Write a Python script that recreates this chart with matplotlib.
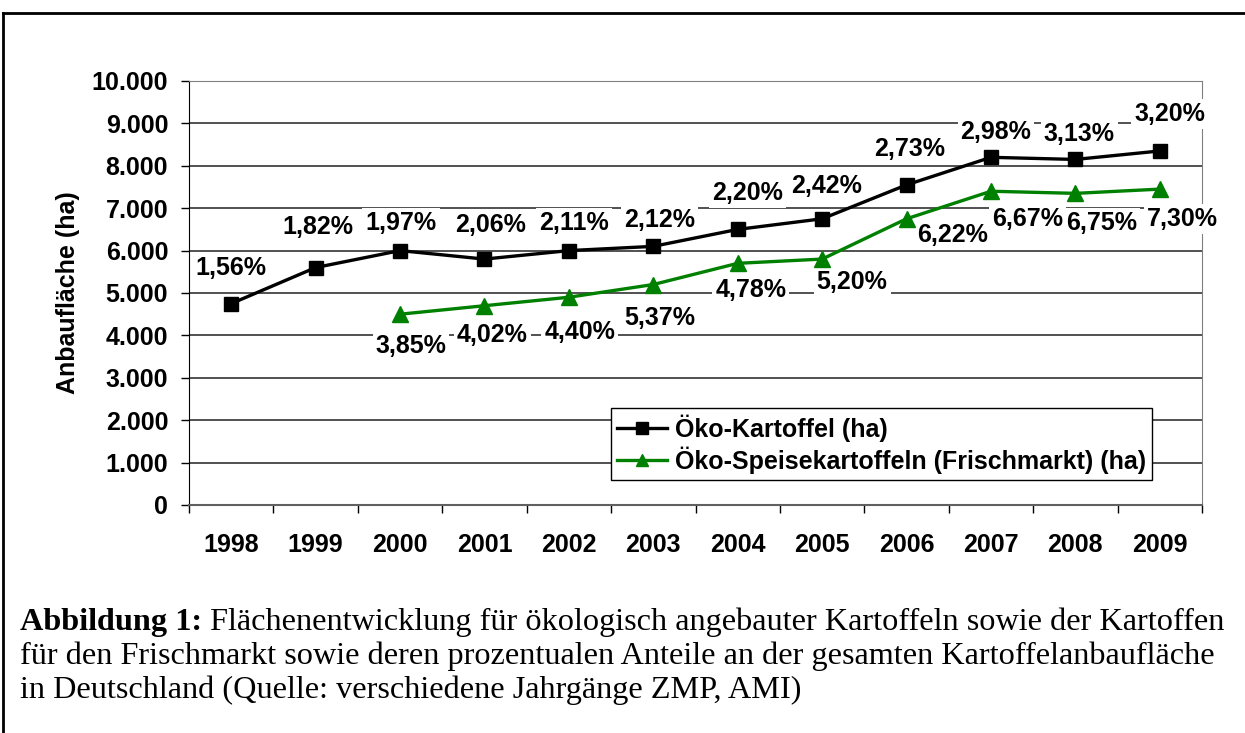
import matplotlib
matplotlib.use('Agg')
import matplotlib.pyplot as plt
from matplotlib.lines import Line2D
import numpy as np

plt.rcParams['font.family'] = ['Liberation Sans', 'DejaVu Sans']

# data
years = ['1998', '1999', '2000', '2001', '2002', '2003',
         '2004', '2005', '2006', '2007', '2008', '2009']
oeko_kartoffel = [4750, 5600, 6000, 5800, 6000, 6100, 6500, 6750, 7550, 8200, 8150, 8350]
oeko_kartoffel_pct = ['1,56%', '1,82%', '1,97%', '2,06%', '2,11%', '2,12%',
                      '2,20%', '2,42%', '2,73%', '2,98%', '3,13%', '3,20%']
speise_years = ['2000', '2001', '2002', '2003', '2004', '2005', '2006', '2007', '2008', '2009']
speise_kartoffel = [4500, 4700, 4900, 5200, 5700, 5800, 6750, 7400, 7350, 7450]
speise_pct = ['3,85%', '4,02%', '4,40%', '5,37%', '4,78%', '5,20%',
              '6,22%', '6,67%', '6,75%', '7,30%']
yticks = [0, 1000, 2000, 3000, 4000, 5000, 6000, 7000, 8000, 9000, 10000]

# label offsets in pixels (dx, dy) as placed in the original chart
black_off = [(0, 36), (2, 41), (1, 28), (6, 34), (5, 28), (6, 26),
             (10, 36), (4, 33), (3, 36), (5, 25), (4, 25), (10, 37)]
green_off = [(11, -32), (8, -29), (11, -35), (7, -33), (13, -27), (30, -23),
             (46, -16), (37, -28), (26, -30), (23, -30)]

fig = plt.figure(figsize=(12.45, 7.33), dpi=100)
ax = fig.add_axes([189 / 1245, 1 - 505 / 733, 1013 / 1245, 424 / 733])

x = np.arange(len(years))
xs = np.array([years.index(y) for y in speise_years])

ax.plot(x, oeko_kartoffel, color='black', lw=2.4, marker='s', ms=10.5,
        label='Öko-Kartoffel (ha)', zorder=4)
ax.plot(xs, speise_kartoffel, color='#008000', lw=2.4, marker='^', ms=11,
        label='Öko-Speisekartoffeln (Frischmarkt) (ha)', zorder=4)

box = dict(boxstyle='square,pad=0.12', fc='white', ec='none')
for xi, v, t, (dx, dy) in zip(x, oeko_kartoffel, oeko_kartoffel_pct, black_off):
    ax.annotate(t, (xi, v), xytext=(dx, dy), textcoords='offset pixels',
                ha='center', va='center', fontsize=18, fontweight='bold',
                bbox=box, zorder=3)
for xi, v, t, (dx, dy) in zip(xs, speise_kartoffel, speise_pct, green_off):
    ax.annotate(t, (xi, v), xytext=(dx, dy), textcoords='offset pixels',
                ha='center', va='center', fontsize=18, fontweight='bold',
                bbox=box, zorder=3)

ax.set_xlim(-0.5, len(years) - 0.5)
ax.set_ylim(0, 10000)
ax.set_yticks(yticks)
ax.set_yticklabels([f'{v:,}'.replace(',', '.') for v in yticks])
ax.set_xticks(x)
ax.set_xticklabels(years)
ax.set_xticks(np.arange(len(years) + 1) - 0.5, minor=True)
ax.tick_params(axis='x', which='major', length=0, pad=20, labelsize=18)
ax.tick_params(axis='x', which='minor', length=6, width=1, direction='out')
ax.tick_params(axis='y', length=6, width=1, pad=9, labelsize=18)
for lab in ax.get_xticklabels() + ax.get_yticklabels():
    lab.set_fontweight('bold')

ax.grid(axis='y', color='#222222', lw=1.1, zorder=1)
ax.set_axisbelow(True)
for s in ['top', 'right']:
    ax.spines[s].set_color('#808080')
ax.spines['bottom'].set_color('#606060')
ax.spines['bottom'].set_linewidth(1.5)

ax.set_ylabel('Anbaufläche (ha)', fontsize=18, fontweight='bold')
ax.yaxis.set_label_coords(-0.108, 0.5)

leg = ax.legend(loc='upper left', bbox_to_anchor=(611 / 1245, 1 - 408 / 733),
                bbox_transform=fig.transFigure, fancybox=False, edgecolor='black',
                framealpha=1, prop={'size': 18, 'weight': 'bold'},
                handlelength=2.0, handletextpad=0.3, borderpad=0.25,
                labelspacing=0.2, borderaxespad=0)
leg.get_frame().set_linewidth(1)
for h in leg.legend_handles:
    h.set_markersize(9)

# frame around the figure
fig.add_artist(Line2D([3 / 1245, 1], [1 - 13 / 733] * 2, color='black', lw=2,
                      transform=fig.transFigure))
fig.add_artist(Line2D([3 / 1245] * 2, [0, 1 - 13 / 733], color='black', lw=2,
                      transform=fig.transFigure))

# caption
cap = dict(family='Liberation Serif', fontsize=23.2)
b = fig.text(20 / 1245, 1 - 630 / 733, 'Abbildung 1:', fontweight='bold',
             va='baseline', **cap)
ax.annotate(' Flächenentwicklung für ökologisch angebauter Kartoffeln sowie der Kartoffen',
            xy=(1, 0), xycoords=b, va='bottom', ha='left', annotation_clip=False, **cap)
fig.text(20 / 1245, 1 - 664 / 733,
         'für den Frischmarkt sowie deren prozentualen Anteile an der gesamten Kartoffelanbaufläche',
         va='baseline', **cap)
fig.text(20 / 1245, 1 - 698 / 733,
         'in Deutschland (Quelle: verschiedene Jahrgänge ZMP, AMI)',
         va='baseline', **cap)

fig.savefig('out.png', dpi=100)
